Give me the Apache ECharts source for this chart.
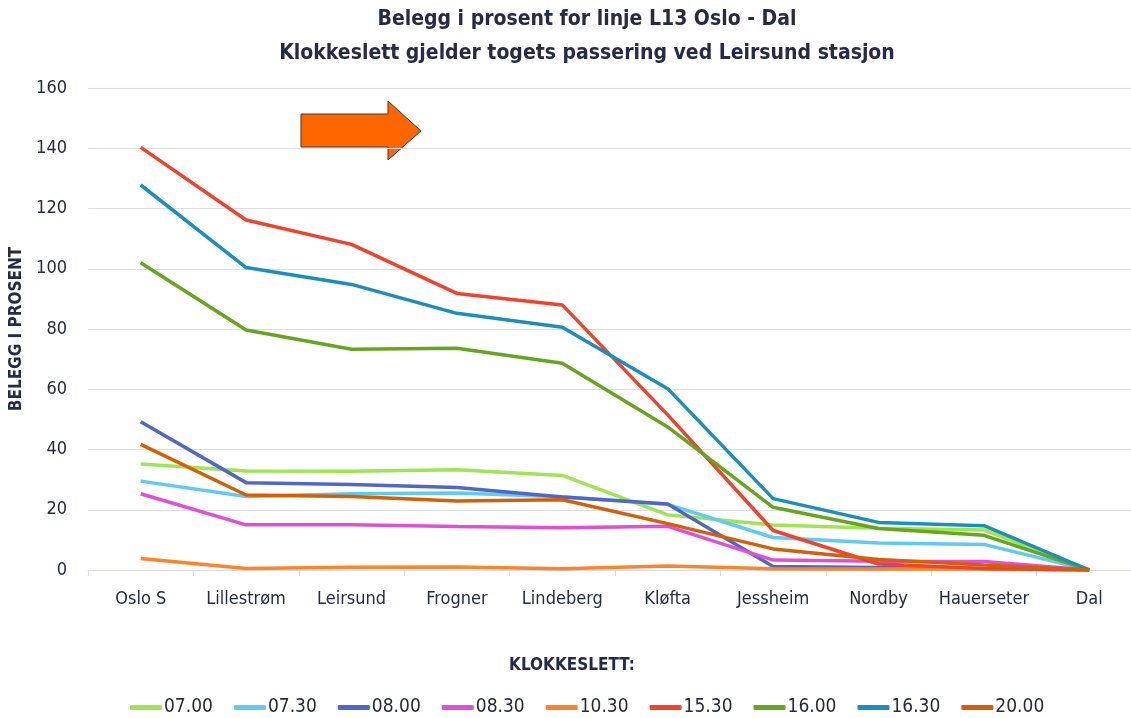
<!DOCTYPE html>
<html>
<head>
<meta charset="utf-8">
<script src="https://cdn.jsdelivr.net/npm/echarts@6/dist/echarts.min.js"></script>
<style>
  html, body { margin: 0; padding: 0; background: #fff; }
  #chart { width: 1131px; height: 718px; }
</style>
</head>
<body>
<div id="chart"></div>
<script>
// stations along the line
var stations = ['Oslo S', 'Lillestrøm', 'Leirsund', 'Frogner', 'Lindeberg', 'Kløfta', 'Jessheim', 'Nordby', 'Hauerseter', 'Dal'];
var times = ['07.00', '07.30', '08.00', '08.30', '10.30', '15.30', '16.00', '16.30', '20.00'];
var yTicks = [0, 20, 40, 60, 80, 100, 120, 140, 160];

// belegg i prosent, one array per departure
var t0700 = [35.2, 32.9, 32.8, 33.3, 31.4, 18.3, 14.9, 13.9, 13.3, 0];
var t0730 = [29.5, 24.4, 25.3, 25.6, 24.3, 21.8, 10.8, 9.0, 8.5, 0];
var t0800 = [49.2, 29.0, 28.4, 27.4, 24.2, 21.9, 1.2, 0.8, 0.5, 0];
var t0830 = [25.3, 15.0, 15.0, 14.4, 14.0, 14.5, 3.3, 2.9, 2.8, 0];
var t1030 = [3.8, 0.5, 0.9, 1.0, 0.4, 1.3, 0.4, 0.3, 0.3, 0];
var t1530 = [140.3, 116.2, 108.1, 91.8, 88.0, 51.5, 13.1, 2.0, 0.5, 0];
var t1600 = [102.0, 79.7, 73.3, 73.6, 68.6, 47.5, 20.8, 13.8, 11.5, 0];
var t1630 = [127.8, 100.4, 94.8, 85.2, 80.6, 60.2, 23.7, 15.8, 14.7, 0];
var t2000 = [41.7, 24.9, 24.4, 22.9, 23.3, 15.4, 7.0, 3.5, 1.7, 0];

var allData = [t0700, t0730, t0800, t0830, t1030, t1530, t1600, t1630, t2000];
var colors = ['#9fe552', '#5ecbf1', '#5066c9', '#df4fd8', '#ff8427', '#f1432b', '#66a61e', '#1a8fbf', '#d45f05'];

var font = "'Liberation Sans Narrow', 'DejaVu Sans Condensed', 'Noto Sans', sans-serif";
var textColor = '#262a48';

var myChart = echarts.init(document.getElementById('chart'));

myChart.setOption({
  color: colors,
  animation: false,
  textStyle: { fontFamily: font },
  title: [{
    text: 'Belegg i prosent for linje L13 Oslo - Dal\nKlokkeslett gjelder togets passering ved Leirsund stasjon',
    left: 582,
    top: -2,
    textAlign: 'center',
    textStyle: { fontSize: 21, fontWeight: 'bold', color: textColor, fontFamily: font, lineHeight: 34 }
  }, {
    // x-axis caption sits above the legend
    text: 'KLOKKESLETT:',
    left: 567,
    top: 652,
    textAlign: 'center',
    textStyle: { fontSize: 17, fontWeight: 'bold', color: textColor, fontFamily: font }
  }],
  legend: {
    data: times,
    top: 693,
    left: 125,
    itemWidth: 32,
    itemHeight: 5,
    itemGap: 21,
    icon: 'roundRect',
    textStyle: { fontSize: 19, color: textColor, fontFamily: font, padding: [0, 0, 0, -3] }
  },
  grid: { left: 88, top: 88, width: 1054, height: 482, outerBoundsMode: 'none' },
  xAxis: {
    type: 'category',
    data: stations,
    boundaryGap: true,
    axisLine: { lineStyle: { color: '#d9d9e8', width: 1 } },
    axisTick: { show: true, length: 6, lineStyle: { color: '#d9d9e8' } },
    axisLabel: { fontSize: 18, color: textColor, margin: 20, interval: 0, fontFamily: font }
  },
  yAxis: {
    type: 'value',
    min: yTicks[0],
    max: yTicks[yTicks.length - 1],
    interval: 20,
    name: 'BELEGG I PROSENT',
    nameLocation: 'middle',
    nameGap: 63,
    nameTextStyle: { fontSize: 17, fontWeight: 'bold', color: textColor, fontFamily: font },
    axisLine: { show: false },
    axisTick: { show: false },
    axisLabel: { fontSize: 18, color: textColor, margin: 21, fontFamily: font },
    splitLine: { lineStyle: { color: '#dcdcec', width: 1 } }
  },
  graphic: [{
    type: 'polygon',
    shape: { points: [[301, 114], [388, 114], [388, 101], [421, 131], [388, 160], [388, 147], [301, 147]] },
    style: { fill: '#ff6600', stroke: '#3a3a3a', lineWidth: 1 }
  }],
  series: times.map(function (t, i) {
    return {
      name: t,
      type: 'line',
      data: allData[i],
      symbol: 'none',
      lineStyle: { width: 3.5 }
    };
  })
});
</script>
</body>
</html>
